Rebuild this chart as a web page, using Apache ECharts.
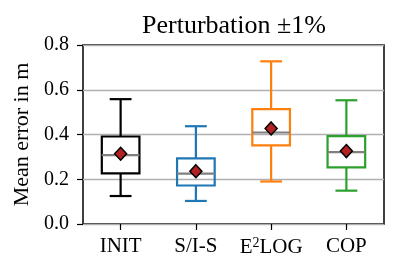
<!DOCTYPE html>
<html><head><meta charset="utf-8">
<script src="https://cdn.jsdelivr.net/npm/echarts@6/dist/echarts.min.js"></script>
<style>html,body{margin:0;padding:0;background:#fff}#c{width:399px;height:275px}</style>
</head><body><div id="c"></div>
<script>
const categories = ['INIT', 'S/I-S', 'E2LOG', 'COP'];
const whiskerLow = [0.125, 0.103, 0.190, 0.149];
const q1 = [0.226, 0.172, 0.351, 0.253];
const median = [0.308, 0.225, 0.409, 0.321];
const q3 = [0.391, 0.293, 0.513, 0.393];
const whiskerHigh = [0.558, 0.437, 0.727, 0.553];
const means = [0.314, 0.236, 0.427, 0.326];
const colors = ['#000000', '#1f77b4', '#ff7f0e', '#2ca02c'];
const yTicks = [0, 0.2, 0.4, 0.6, 0.8];

const FONT = 'Liberation Serif';
const boxData = categories.map((c, i) => [i, whiskerLow[i], q1[i], median[i], q3[i], whiskerHigh[i]]);

const chart = echarts.init(document.getElementById('c'), null, {renderer: 'canvas'});
chart.setOption({
  animation: false,
  title: {text: 'Perturbation ±1%', left: 229, top: 8, textAlign: 'center',
    textStyle: {fontFamily: FONT, fontSize: 26, fontWeight: 'normal', color: '#000'}},
  grid: {left: 83, right: 15, top: 45, bottom: 51, show: true, borderColor: '#000', borderWidth: 1.5, backgroundColor: 'transparent'},
  xAxis: {type: 'category', data: categories, boundaryGap: true,
    axisLine: {show: false}, axisTick: {show: true, alignWithLabel: true, length: 6, lineStyle: {color: '#000', width: 1.2}},
    axisLabel: {interval: 0, fontFamily: FONT, fontSize: 21, color: '#000', margin: 12,
      formatter: v => v === 'E2LOG' ? '{b|E}{sup|2}{b|LOG}' : v,
      rich: {
        b: {fontFamily: FONT, fontSize: 21, color: '#000', lineHeight: 22},
        sup: {fontFamily: FONT, fontSize: 14, color: '#000', verticalAlign: 'top', lineHeight: 14}
      }},
    splitLine: {show: false}},
  yAxis: {type: 'value', min: 0, max: 0.8, interval: 0.2,
    name: 'Mean error in m', nameLocation: 'middle', nameGap: 50,
    nameTextStyle: {fontFamily: FONT, fontSize: 22, color: '#000'},
    axisLine: {show: false}, axisTick: {show: true, length: 6, lineStyle: {color: '#000', width: 1.2}},
    axisLabel: {fontFamily: FONT, fontSize: 20, color: '#000', margin: 14, formatter: v => v.toFixed(1)},
    splitLine: {show: true, lineStyle: {color: '#b0b0b0', width: 1.3}}},
  series: [
    {type: 'custom', data: boxData, z: 3,
      renderItem: function (params, api) {
        const i = api.value(0);
        const col = colors[i];
        const full = api.size([1, 0])[0];
        const hb = full * 0.25, hc = full * 0.145;
        const pLow = api.coord([i, api.value(1)]);
        const pQ1 = api.coord([i, api.value(2)]);
        const pMed = api.coord([i, api.value(3)]);
        const pQ3 = api.coord([i, api.value(4)]);
        const pHigh = api.coord([i, api.value(5)]);
        const cx = pQ1[0];
        const ls = {stroke: col, lineWidth: 2.2, fill: null};
        return {type: 'group', children: [
          {type: 'line', shape: {x1: cx, y1: pQ3[1], x2: cx, y2: pHigh[1]}, style: ls},
          {type: 'line', shape: {x1: cx, y1: pQ1[1], x2: cx, y2: pLow[1]}, style: ls},
          {type: 'line', shape: {x1: cx - hc, y1: pHigh[1], x2: cx + hc, y2: pHigh[1]}, style: ls},
          {type: 'line', shape: {x1: cx - hc, y1: pLow[1], x2: cx + hc, y2: pLow[1]}, style: ls},
          {type: 'rect', shape: {x: cx - hb, y: pQ3[1], width: 2 * hb, height: pQ1[1] - pQ3[1]}, style: ls},
          {type: 'line', shape: {x1: cx - hb, y1: pMed[1], x2: cx + hb, y2: pMed[1]}, style: {stroke: '#808080', lineWidth: 2.2}}
        ]};
      }},
    {type: 'scatter', data: means.map((m, i) => [i, m]), symbol: 'diamond', symbolSize: [12, 13], z: 5,
      itemStyle: {color: '#b22222', borderColor: '#000', borderWidth: 1.5, opacity: 1}}
  ]
});
</script></body></html>
